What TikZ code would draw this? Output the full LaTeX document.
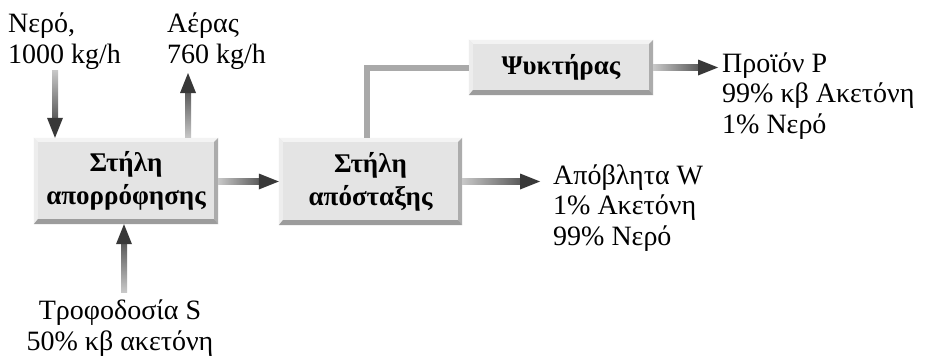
\documentclass[tikz,border=0pt]{standalone}
\usepackage{fontspec}
\setmainfont{Liberation Serif}
\usetikzlibrary{calc}
\definecolor{face}{HTML}{E4E4E4}
\definecolor{bvtop}{HTML}{F3F3F3}
\definecolor{bvleft}{HTML}{EDEDED}
\definecolor{bvright}{HTML}{ACACAC}
\definecolor{bvbot}{HTML}{9C9C9C}
\definecolor{shlight}{HTML}{C8C8C8}
\definecolor{shdark}{HTML}{5A5A5A}
\definecolor{headc}{HTML}{383838}
\definecolor{linec}{HTML}{A9A9A9}
\newcommand\bevel[1]{%
 \fill[bvtop] (#1.north west) -- (#1.north east) -- ($(#1.north east)+(-4,4)$) -- ($(#1.north west)+(4,4)$) -- cycle;
 \fill[bvleft] (#1.north west) -- ($(#1.north west)+(4,4)$) -- ($(#1.south west)+(4,-5)$) -- (#1.south west) -- cycle;
 \fill[bvright] (#1.north east) -- (#1.south east) -- ($(#1.south east)+(-4,-5)$) -- ($(#1.north east)+(-4,4)$) -- cycle;
 \fill[bvbot] (#1.south west) -- (#1.south east) -- ($(#1.south east)+(-4,-5)$) -- ($(#1.south west)+(4,-5)$) -- cycle;}
\newcommand\arrright[2]{%
 \shade[left color=shlight, right color=shdark] ($(#1)+(0,-3)$) rectangle ($(#2)+(-19,3)$);
 \fill[headc] (#2) -- ($(#2)+(-20,-8)$) -- ($(#2)+(-20,8)$) -- cycle;}
\newcommand\arrup[2]{%
 \shade[bottom color=shlight, top color=shdark] ($(#1)+(-3,0)$) rectangle ($(#2)+(3,19)$);
 \fill[headc] (#2) -- ($(#2)+(-8,20)$) -- ($(#2)+(8,20)$) -- cycle;}
\newcommand\arrdown[2]{%
 \shade[top color=shlight, bottom color=shdark] ($(#1)+(-3,0)$) rectangle ($(#2)+(3,-19)$);
 \fill[headc] (#2) -- ($(#2)+(-8,-20)$) -- ($(#2)+(8,-20)$) -- cycle;}
\begin{document}
\begin{tikzpicture}[x=1pt,y=-1pt,
 unitbox/.style={fill=face, inner sep=0, minimum width=184pt, align=center, font=\bfseries\fontsize{27}{33}\selectfont},
 lbl/.style={inner sep=0, align=left, font=\fontsize{28}{30.5}\selectfont, anchor=base west}]
\useasboundingbox (0,0) rectangle (929,364);
\fill[white] (0,0) rectangle (929,364);
% units
\node[unitbox, minimum height=86pt] (abs) at (126,181) {Στήλη\\απορρόφησης};
\node[unitbox, minimum height=87pt, minimum width=183pt] (dist) at (370.5,181.5) {Στήλη\\απόσταξης};
\node[unitbox, minimum height=55pt] (cool) at (561,67.5) {Ψυκτήρας};
\bevel{abs}\bevel{dist}\bevel{cool}
% labels (anchor = baseline of the last line)
\node[lbl] (nero) at (8,63) {Νερό,\\1000 kg/h};
\node[lbl] (aeras) at (167,63) {Αέρας\\760 kg/h};
\node[lbl] (prod) at (722,133) {Προϊόν P\\99\% κβ Ακετόνη\\1\% Νερό};
\node[lbl] (waste) at (553,245) {Απόβλητα W\\1\% Ακετόνη\\99\% Νερό};
\node[lbl, align=center, anchor=base] (feed) at (120,350) {Τροφοδοσία S\\50\% κβ ακετόνη};
% connectors
\coordinate (w0) at (55,70);
\coordinate (w1) at (w0 |- abs.north);
\arrdown{w0}{w1}
\coordinate (a1) at (188,73);
\coordinate (a0) at (a1 |- abs.north);
\arrup{a0}{a1}
\coordinate (f0) at (124,292);
\coordinate (f1) at (f0 |- abs.south);
\arrup{f0}{f1}
\arrright{abs.east}{dist.west}
\coordinate (wt) at (540,181.5);
\arrright{dist.east}{wt}
\coordinate (pt) at (718,67.5);
\arrright{cool.east}{pt}
\coordinate (v) at (367,0);
\draw[linec, line width=6pt] (dist.north -| v) |- (cool.west);
\end{tikzpicture}
\end{document}
